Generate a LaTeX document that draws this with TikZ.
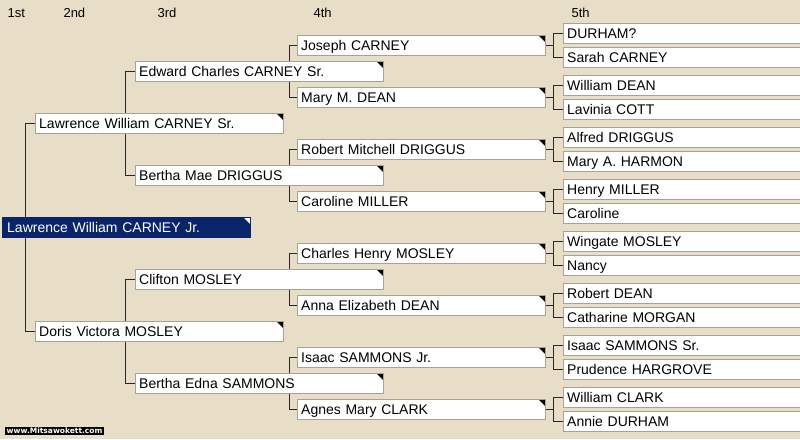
\documentclass[tikz,border=0pt]{standalone}
\usepackage{fontspec}
\setmainfont{Liberation Sans}
\newfontfamily\markfont{DejaVu Sans}
\usetikzlibrary{positioning}
\definecolor{parchment}{RGB}{232,221,198}
\definecolor{selnavy}{RGB}{10,36,106}
\definecolor{boxedge}{RGB}{168,162,150}
\definecolor{linkgrey}{RGB}{40,40,40}
\pgfdeclarelayer{bg}
\pgfdeclarelayer{links}
\pgfsetlayers{bg,links,main}

\begin{document}
\begin{tikzpicture}[
    x=1pt,
    y=-1pt,
    font=\fontsize{14}{16}\selectfont
]

\tikzstyle{person}=[
    draw=boxedge,
    fill=white,
    anchor=west,
    text width=240pt,
    align=left,
    minimum height=20pt,
    inner xsep=4pt,
    inner ysep=0pt,
    text height=10pt,
    text depth=0pt
]
\tikzstyle{tagged}=[
    path picture={\fill[black] (path picture bounding box.north east)
        -- ++(-7pt,0pt) -- ++(7pt,-7pt) -- cycle;}
]
\tikzstyle{root}=[
    person,
    draw=selnavy,
    fill=selnavy,
    text=white,
    inner xsep=5pt,
    text width=238pt,
    path picture={\fill[white] (path picture bounding box.north east)
        -- ++(-7pt,0pt) -- ++(7pt,-7pt) -- cycle;}
]
\tikzstyle{leaf}=[person, text width=250pt]
\tikzstyle{gen}=[anchor=base west, font=\fontsize{13}{15}\selectfont]
\tikzstyle{link}=[draw=linkgrey, line width=0.9pt]

\useasboundingbox (0,0) rectangle (800,439);
\begin{pgfonlayer}{bg}
\fill[parchment] (0,0) rectangle (800,439);
\end{pgfonlayer}

% column heads
\node[gen] (h1) at (4,17) {1st};
\node[gen] (h2) at (60,17) {2nd};
\node[gen] (h3) at (154,17) {3rd};
\node[gen] (h4) at (310,17) {4th};
\node[gen] (h5) at (568,17) {5th};

% 1st
\node[root] (lwcj) at (2,227) {Lawrence William CARNEY Jr.};

% 2nd
\node[person, tagged] (lwcs) at (35,123) {Lawrence William CARNEY Sr.};
\node[person, tagged] (dvm) at (35,331) {Doris Victora MOSLEY};

% 3rd
\node[person, tagged] (ecc) at (135,71) {Edward Charles CARNEY Sr.};
\node[person, tagged] (bmd) at (135,175) {Bertha Mae DRIGGUS};
\node[person, tagged] (cmo) at (135,279) {Clifton MOSLEY};
\node[person, tagged] (bes) at (135,383) {Bertha Edna SAMMONS};

% 4th
\node[person, tagged] (jc) at (297,45) {Joseph CARNEY};
\node[person, tagged] (mmd) at (297,97) {Mary M. DEAN};
\node[person, tagged] (rmd) at (297,149) {Robert Mitchell DRIGGUS};
\node[person, tagged] (cmi) at (297,201) {Caroline MILLER};
\node[person, tagged] (chm) at (297,253) {Charles Henry MOSLEY};
\node[person, tagged] (aed) at (297,305) {Anna Elizabeth DEAN};
\node[person, tagged] (isj) at (297,357) {Isaac SAMMONS Jr.};
\node[person, tagged] (amc) at (297,409) {Agnes Mary CLARK};

% 5th
\node[leaf] (dur) at (563,33) {DURHAM?};
\node[leaf] (sca) at (563,57) {Sarah CARNEY};
\node[leaf] (wde) at (563,85) {William DEAN};
\node[leaf] (lco) at (563,109) {Lavinia COTT};
\node[leaf] (adr) at (563,137) {Alfred DRIGGUS};
\node[leaf] (mah) at (563,161) {Mary A. HARMON};
\node[leaf] (hmi) at (563,189) {Henry MILLER};
\node[leaf] (car) at (563,213) {Caroline};
\node[leaf] (wmo) at (563,241) {Wingate MOSLEY};
\node[leaf] (nan) at (563,265) {Nancy};
\node[leaf] (rde) at (563,293) {Robert DEAN};
\node[leaf] (cmg) at (563,317) {Catharine MORGAN};
\node[leaf] (iss) at (563,345) {Isaac SAMMONS Sr.};
\node[leaf] (phg) at (563,369) {Prudence HARGROVE};
\node[leaf] (wcl) at (563,397) {William CLARK};
\node[leaf] (adu) at (563,421) {Annie DURHAM};

\node[fill=black, text=white, anchor=west, inner xsep=1.5pt, inner ysep=1pt,
      font=\markfont\bfseries\fontsize{7.5}{8}\selectfont] (wmark) at (5,431)
      {www.Mitsawokett.com};

\begin{pgfonlayer}{links}
\draw[link] (lwcs.west) -- ++(-10,0) |- (dvm.west);

\draw[link] (ecc.west) -- ++(-10,0) |- (bmd.west);
\draw[link] (cmo.west) -- ++(-10,0) |- (bes.west);

\draw[link] (jc.west) -- ++(-8,0) |- (mmd.west);
\draw[link] (rmd.west) -- ++(-8,0) |- (cmi.west);
\draw[link] (chm.west) -- ++(-8,0) |- (aed.west);
\draw[link] (isj.west) -- ++(-8,0) |- (amc.west);

\draw[link] (jc.east) -- ++(8,0);
\draw[link] (mmd.east) -- ++(8,0);
\draw[link] (rmd.east) -- ++(8,0);
\draw[link] (cmi.east) -- ++(8,0);
\draw[link] (chm.east) -- ++(8,0);
\draw[link] (aed.east) -- ++(8,0);
\draw[link] (isj.east) -- ++(8,0);
\draw[link] (amc.east) -- ++(8,0);
\draw[link] (dur.west) -- ++(-10,0) |- (sca.west);
\draw[link] (wde.west) -- ++(-10,0) |- (lco.west);
\draw[link] (adr.west) -- ++(-10,0) |- (mah.west);
\draw[link] (hmi.west) -- ++(-10,0) |- (car.west);
\draw[link] (wmo.west) -- ++(-10,0) |- (nan.west);
\draw[link] (rde.west) -- ++(-10,0) |- (cmg.west);
\draw[link] (iss.west) -- ++(-10,0) |- (phg.west);
\draw[link] (wcl.west) -- ++(-10,0) |- (adu.west);
\end{pgfonlayer}

\end{tikzpicture}
\end{document}
